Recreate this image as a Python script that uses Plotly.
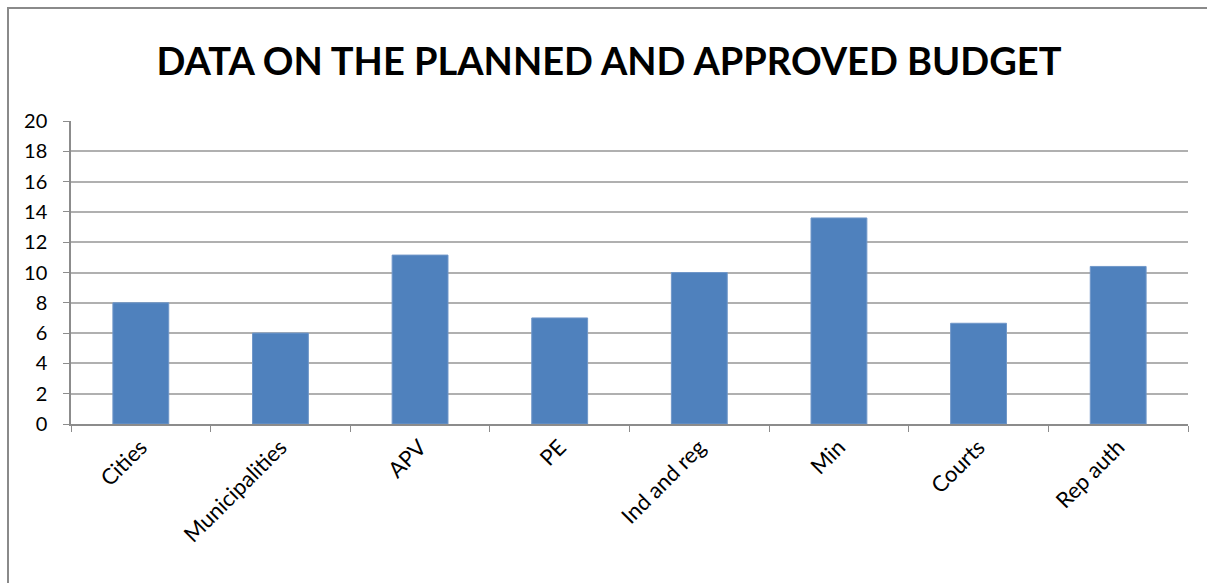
import plotly.graph_objects as go

categories = ["Cities", "Municipalities", "APV", "PE", "Ind and reg", "Min", "Courts", "Rep auth"]
values = [8.0, 6.0, 11.15, 7.0, 10.0, 13.6, 6.65, 10.4]
y_ticks = list(range(0, 21, 2))

W, H = 1207, 583
ML, MR, MT, MB = 71, 19, 121, 159
pw, ph = W - ML - MR, H - MT - MB

fig = go.Figure(go.Bar(
    x=categories, y=values,
    marker=dict(color="#4F81BD", line=dict(color="#7097c9", width=1)),
    width=0.4,
))

# outer chart border (top and left visible)
bx0 = (8 - ML) / pw
by1 = 1 + (MT - 8) / ph
fig.add_shape(type="rect", xref="paper", yref="paper",
              x0=bx0, x1=1 + (MR + 20) / pw, y0=-(MB + 20) / ph, y1=by1,
              line=dict(color="#8a8a8a", width=2), fillcolor="rgba(0,0,0,0)", layer="below")

fig.update_layout(
    width=W, height=H,
    margin=dict(l=ML, r=MR, t=MT, b=MB, pad=0),
    paper_bgcolor="white", plot_bgcolor="white",
    showlegend=False,
    title=dict(text="<b>DATA ON THE PLANNED AND APPROVED BUDGET</b>",
               x=(609) / W, xanchor="center", y=1 - 62 / H, yanchor="middle",
               font=dict(family="Lato", size=38, color="black")),
    bargap=0.6,
)
fig.update_xaxes(
    type="category", tickangle=-45, tickson="boundaries",
    ticks="outside", ticklen=6, tickcolor="#8c8c8c",
    showline=True, linecolor="#8c8c8c", linewidth=1.5,
    showgrid=False,
    tickfont=dict(family="Lato", size=22, color="black"),
)
fig.update_yaxes(
    range=[0, 20], tickvals=y_ticks, ticks="outside", ticklen=6, tickcolor="#8c8c8c",
    showline=True, linecolor="#8c8c8c", linewidth=1.5,
    showgrid=True, gridcolor="#b0b0b0", gridwidth=1.5,
    zeroline=False,
    tickfont=dict(family="Lato", size=20, color="black"),
    ticklabelstandoff=12,
)
fig.write_html("out.html")
